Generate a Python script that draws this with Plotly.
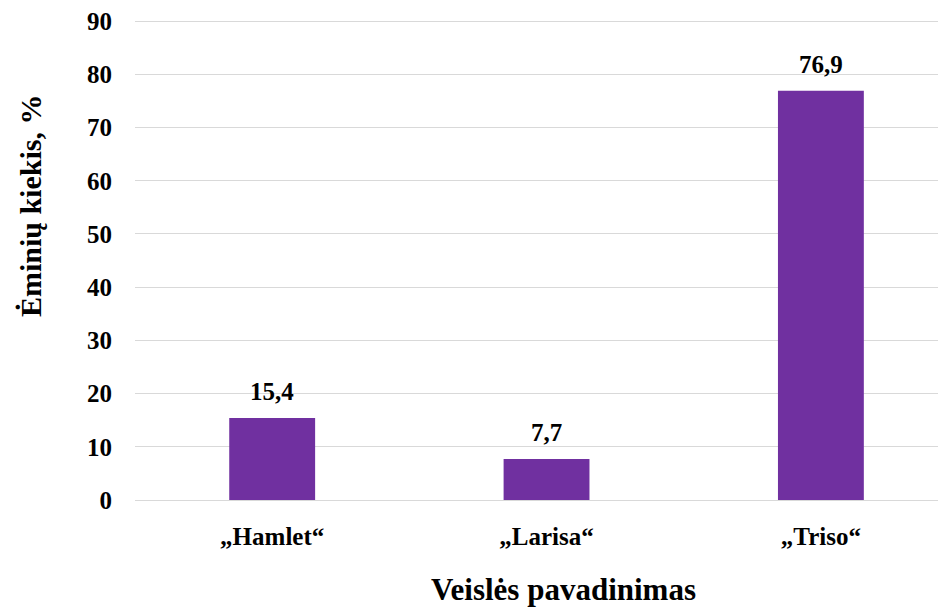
import plotly.graph_objects as go

varieties = ["„Hamlet“", "„Larisa“", "„Triso“"]
shares = [15.4, 7.7, 76.9]
y_ticks = [0, 10, 20, 30, 40, 50, 60, 70, 80, 90]

FONT = "Liberation Serif, Times New Roman, serif"
PURPLE = "#7030A0"
BLACK = "#000000"

fig = go.Figure()
fig.add_trace(go.Bar(
    x=varieties,
    y=shares,
    marker=dict(color=PURPLE, line=dict(width=0)),
    hoverinfo="skip",
))

# data labels, comma as decimal separator
for name, val in zip(varieties, shares):
    fig.add_annotation(
        x=name, y=val, yanchor="bottom", yshift=11,
        text=f"{val:.1f}".replace(".", ","),
        showarrow=False,
        font=dict(family=FONT, size=25, color=BLACK, weight="bold"),
    )

# axis titles as annotations so they sit where the original puts them
fig.add_annotation(
    xref="paper", yref="paper", x=0.528, y=-0.187,
    xanchor="center", yanchor="middle", showarrow=False,
    text="Veislės pavadinimas",
    font=dict(family=FONT, size=31, color=BLACK, weight="bold"),
)
fig.add_annotation(
    xref="paper", yref="paper", x=-0.1295, y=0.613,
    xanchor="center", yanchor="middle", showarrow=False, textangle=-90,
    text="Ėminių kiekis, %",
    font=dict(family=FONT, size=30, color=BLACK, weight="bold"),
)

fig.update_layout(
    width=938, height=607,
    margin=dict(l=127, r=0, t=9, b=115),
    plot_bgcolor="white", paper_bgcolor="white",
    bargap=0.687,
    showlegend=False,
    font=dict(family=FONT, color=BLACK),
    xaxis=dict(
        range=[-0.5, 2.456],
        showgrid=False, showline=False, zeroline=False,
        tickfont=dict(family=FONT, size=25, color=BLACK, weight="bold"),
        ticklabelstandoff=19,
    ),
    yaxis=dict(
        range=[0, 90.4],
        tickvals=y_ticks,
        ticklabeloverflow="allow",
        showgrid=True, gridcolor="#d9d9d9", gridwidth=1,
        zeroline=True, zerolinecolor="#d9d9d9", zerolinewidth=1,
        showline=False,
        tickfont=dict(family=FONT, size=25, color=BLACK, weight="bold"),
        ticklabelstandoff=22,
    ),
)

fig.write_html("out.html")
